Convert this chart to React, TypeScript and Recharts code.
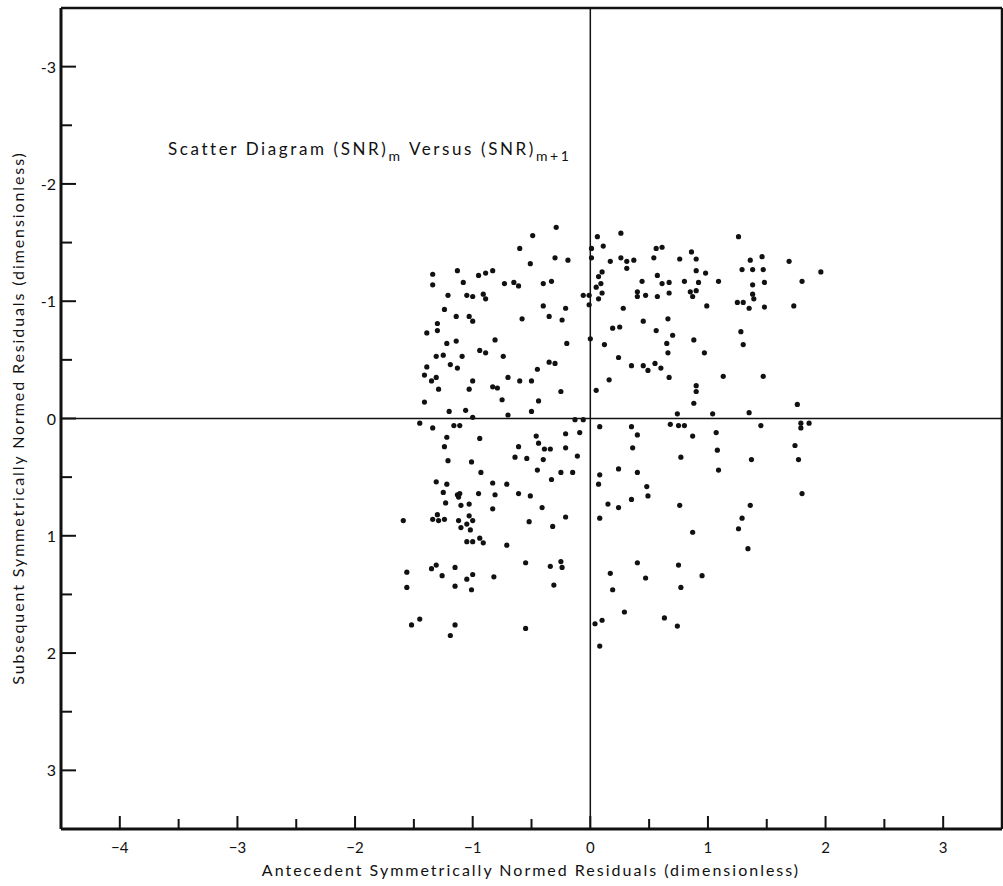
import { ScatterChart, Scatter, XAxis, YAxis, ReferenceLine } from "recharts";

const FONT = "Lato, 'DejaVu Sans', sans-serif";
const INK = "#111";

// tick positions (half steps are the short unlabelled ticks)
const xTicks = [-4, -3.5, -3, -2.5, -2, -1.5, -1, -0.5, 0, 0.5, 1, 1.5, 2, 2.5, 3];
const yTicks = [-3, -2.5, -2, -1.5, -1, -0.5, 0, 0.5, 1, 1.5, 2, 2.5, 3];

// [antecedent, subsequent] residual pairs
const topLeft: [number, number][] = [
  [-0.29, -1.63], [-0.49, -1.56], [-0.6, -1.45], [-0.3, -1.37], [-0.19, -1.35], [-0.51, -1.32],
  [-1.34, -1.23], [-1.13, -1.26], [-0.95, -1.22], [-0.89, -1.24], [-0.83, -1.26], [-1.34, -1.14],
  [-1.08, -1.16], [-0.73, -1.15], [-0.65, -1.16], [-0.61, -1.13], [-0.4, -1.15], [-0.33, -1.17],
  [-1.21, -1.05], [-1.05, -1.05], [-1.0, -1.04], [-0.91, -1.06], [-0.89, -1.02], [-0.06, -1.05],
  [-0.01, -1.05], [-0.4, -0.96], [-0.21, -0.94], [-0.01, -0.97], [-1.24, -0.93], [0.01, -1.45],
  [0.01, -1.37],
];

const topRight: [number, number][] = [
  [0.06, -1.55], [0.26, -1.58], [0.11, -1.47], [0.56, -1.45], [0.61, -1.46], [0.86, -1.42],
  [1.26, -1.55], [0.26, -1.37], [0.31, -1.34], [0.37, -1.35], [0.17, -1.34], [0.54, -1.37],
  [0.76, -1.36], [0.9, -1.36], [1.36, -1.35], [1.46, -1.38], [1.69, -1.34], [0.31, -1.28],
  [0.1, -1.25], [0.07, -1.21], [0.57, -1.22], [0.9, -1.26], [0.98, -1.24], [1.29, -1.27],
  [1.38, -1.27], [1.47, -1.27], [0.44, -1.17], [0.61, -1.15], [0.67, -1.16], [0.8, -1.17],
  [0.92, -1.16], [1.09, -1.17], [1.38, -1.14], [1.48, -1.16], [0.05, -1.12], [0.09, -1.15],
  [0.1, -1.07], [0.4, -1.08], [0.4, -1.04], [0.47, -1.05], [0.57, -1.04], [0.67, -1.07],
  [0.85, -1.08], [0.87, -1.04], [0.9, -1.09], [1.38, -1.06], [1.39, -1.02], [0.07, -1.02],
  [0.28, -0.94], [0.99, -0.96], [1.25, -0.99], [1.3, -0.99], [1.35, -0.94], [1.48, -0.95],
  [1.73, -0.96], [1.96, -1.25], [1.8, -1.17],
];

const midLeft: [number, number][] = [
  [-1.14, -0.87], [-1.03, -0.87], [-1.0, -0.83], [-0.58, -0.85], [-0.35, -0.87], [-0.24, -0.84],
  [-1.3, -0.81], [-1.39, -0.73], [-1.3, -0.75], [-1.22, -0.64], [-1.14, -0.66], [-0.81, -0.67],
  [-0.2, -0.64], [0.0, -0.68], [-0.94, -0.58], [-0.89, -0.56], [-1.31, -0.53], [-1.25, -0.54],
  [-1.09, -0.53], [-0.74, -0.53], [-0.35, -0.48], [-0.3, -0.47], [-1.39, -0.44], [-1.19, -0.46],
  [-1.13, -0.43], [-0.45, -0.42], [-1.41, -0.37], [-1.31, -0.35], [-1.35, -0.32], [-1.0, -0.32],
  [-0.7, -0.35], [-0.6, -0.32], [-0.5, -0.32], [-1.29, -0.25], [-1.03, -0.25], [-0.83, -0.27],
  [-0.79, -0.26], [-0.25, -0.23], [-1.41, -0.14], [-0.75, -0.16], [-0.44, -0.15], [-1.2, -0.06],
  [-1.06, -0.07], [-1.0, -0.01], [-0.7, -0.03], [-0.5, -0.06], [-1.45, 0.04], [-1.34, 0.08],
  [-1.16, 0.06], [-1.11, 0.06], [-0.13, 0.01], [-0.06, 0.01], [-1.22, 0.16], [-0.94, 0.17],
  [-0.46, 0.15], [-0.21, 0.13], [-0.09, 0.12], [-1.24, 0.24], [-0.61, 0.24], [-0.44, 0.21],
  [-0.39, 0.26], [-0.34, 0.26], [-0.21, 0.25], [-0.64, 0.33], [-0.54, 0.34], [-0.4, 0.35],
  [-0.11, 0.32], [-1.21, 0.36], [-1.01, 0.37], [-0.93, 0.46], [-0.45, 0.44], [-0.25, 0.46],
  [-0.15, 0.46], [-1.31, 0.54], [-1.22, 0.56], [-0.83, 0.55], [-0.71, 0.56], [-0.33, 0.52],
];

const midRight: [number, number][] = [
  [0.45, -0.83], [0.66, -0.85], [0.19, -0.77], [0.25, -0.78], [0.56, -0.75], [0.7, -0.71],
  [1.28, -0.74], [0.12, -0.63], [0.65, -0.64], [0.88, -0.67], [1.3, -0.63], [0.24, -0.52],
  [0.66, -0.56], [0.97, -0.56], [0.35, -0.45], [0.45, -0.45], [0.49, -0.41], [0.55, -0.47],
  [0.6, -0.43], [0.67, -0.35], [0.16, -0.33], [1.13, -0.36], [1.47, -0.36], [0.05, -0.24],
  [0.9, -0.28], [0.9, -0.23], [0.88, -0.13], [0.74, -0.04], [1.04, -0.04], [1.35, -0.05],
  [0.08, 0.07], [0.35, 0.07], [0.68, 0.05], [0.75, 0.06], [0.8, 0.06], [1.45, 0.06],
  [0.4, 0.14], [0.87, 0.15], [1.07, 0.12], [0.36, 0.25], [1.08, 0.27], [0.77, 0.33],
  [1.37, 0.35], [0.24, 0.43], [0.4, 0.46], [1.09, 0.44], [0.08, 0.48], [0.07, 0.56],
  [0.48, 0.58], [1.76, -0.12], [1.79, 0.04], [1.79, 0.08], [1.86, 0.04], [1.74, 0.23],
  [1.77, 0.35],
];

const lowLeft: [number, number][] = [
  [-1.25, 0.63], [-1.13, 0.65], [-1.11, 0.64], [-1.12, 0.67], [-0.95, 0.64], [-0.81, 0.65],
  [-0.61, 0.64], [-0.51, 0.66], [-1.23, 0.72], [-1.1, 0.74], [-1.03, 0.73], [-0.83, 0.77],
  [-0.41, 0.76], [-1.59, 0.87], [-1.3, 0.82], [-1.29, 0.87], [-1.34, 0.86], [-1.24, 0.86],
  [-1.12, 0.87], [-1.03, 0.83], [-1.0, 0.87], [-1.05, 0.9], [-1.1, 0.93], [-1.02, 0.95],
  [-0.52, 0.88], [-0.32, 0.92], [-0.21, 0.84], [-1.05, 1.05], [-1.0, 1.05], [-0.94, 1.02],
  [-0.91, 1.06], [-0.71, 1.08], [-0.55, 1.23], [-0.34, 1.26], [-0.25, 1.22], [-0.24, 1.27],
  [-1.31, 1.25], [-1.35, 1.28], [-1.56, 1.31], [-1.15, 1.27], [-1.26, 1.34], [-1.0, 1.33],
  [-1.05, 1.37], [-0.82, 1.35], [-1.56, 1.44], [-1.15, 1.43], [-1.01, 1.46], [-0.31, 1.42],
  [-1.45, 1.71], [-1.52, 1.76], [-1.15, 1.76], [-1.19, 1.85], [-0.55, 1.79],
];

const lowRight: [number, number][] = [
  [0.15, 0.73], [0.24, 0.76], [0.35, 0.69], [0.49, 0.66], [0.76, 0.74], [0.08, 0.85],
  [0.87, 0.97], [1.36, 0.74], [1.29, 0.85], [1.26, 0.94], [1.34, 1.11], [0.4, 1.23],
  [0.75, 1.25], [0.17, 1.32], [0.47, 1.36], [0.95, 1.34], [0.19, 1.46], [0.77, 1.44],
  [0.29, 1.65], [0.1, 1.72], [0.04, 1.75], [0.63, 1.7], [0.74, 1.77], [0.08, 1.94],
  [1.8, 0.64],
];

const points = [...topLeft, ...topRight, ...midLeft, ...midRight, ...lowLeft, ...lowRight].map(
  ([x, y]) => ({ x, y })
);

const isMajor = (v: number) => Number.isInteger(v);
const fmtX = (v: number) => (v < 0 ? `\u2212${Math.abs(v)}` : `${v}`);
const fmtY = (v: number) => (v < 0 ? `-${Math.abs(v)}` : `${v}`);

const BottomTick = ({ x, y, payload }: any) => {
  const v = payload.value;
  return (
    <g>
      <line x1={x} x2={x} y1={y} y2={y - (isMajor(v) ? 13 : 10)} stroke={INK} strokeWidth={2} />
      {isMajor(v) && (
        <text x={x} y={y + 24} textAnchor="middle" fontSize={15} fontFamily={FONT} fill={INK}>
          {fmtX(v)}
        </text>
      )}
    </g>
  );
};

const TopTick = ({ x, y, payload }: any) => (
  <line x1={x} x2={x} y1={y} y2={y + (isMajor(payload.value) ? 13 : 10)} stroke={INK} strokeWidth={2} />
);

const LeftTick = ({ x, y, payload }: any) => {
  const v = payload.value;
  return (
    <g>
      <line x1={x} x2={x + (isMajor(v) ? 15 : 11)} y1={y} y2={y} stroke={INK} strokeWidth={2} />
      {isMajor(v) && (
        <text x={x - 5} y={y + 6} textAnchor="end" fontSize={16} fontFamily={FONT} fill={INK}>
          {fmtY(v)}
        </text>
      )}
    </g>
  );
};

const RightTick = ({ x, y, payload }: any) => (
  <line x1={x} x2={x - (isMajor(payload.value) ? 13 : 10)} y1={y} y2={y} stroke={INK} strokeWidth={2} />
);

const Dot = (p: any) => <circle cx={p.cx} cy={p.cy} r={2.6} fill={INK} />;

export default function App() {
  return (
    <div style={{ position: "absolute", left: 0, top: 0, width: 1003, height: 886, background: "#fff" }}>
      <ScatterChart width={1003} height={886} margin={{ top: 7, right: 0, bottom: 0, left: 0 }}>
        <XAxis
          dataKey="x"
          type="number"
          domain={[-4.5, 3.5]}
          ticks={xTicks}
          interval={0}
          height={57}
          tickSize={0}
          tickMargin={0}
          tickLine={false}
          tick={<BottomTick />}
          axisLine={{ stroke: INK, strokeWidth: 3 }}
        />
        <XAxis
          xAxisId="top"
          orientation="top"
          type="number"
          domain={[-4.5, 3.5]}
          ticks={xTicks}
          interval={0}
          height={1}
          tickSize={0}
          tickMargin={0}
          tickLine={false}
          tick={<TopTick />}
          axisLine={{ stroke: INK, strokeWidth: 2.5 }}
        />
        <YAxis
          dataKey="y"
          type="number"
          domain={[-3.5, 3.5]}
          reversed
          ticks={yTicks}
          interval={0}
          width={61}
          tickSize={0}
          tickMargin={0}
          tickLine={false}
          tick={<LeftTick />}
          axisLine={{ stroke: INK, strokeWidth: 3 }}
        />
        <YAxis
          yAxisId="right"
          orientation="right"
          type="number"
          domain={[-3.5, 3.5]}
          reversed
          ticks={yTicks}
          interval={0}
          width={1}
          tickSize={0}
          tickMargin={0}
          tickLine={false}
          tick={<RightTick />}
          axisLine={{ stroke: INK, strokeWidth: 2.5 }}
        />
        <ReferenceLine x={0} stroke={INK} strokeWidth={1.5} />
        <ReferenceLine y={0} stroke={INK} strokeWidth={1.5} />
        <Scatter data={points} shape={<Dot />} isAnimationActive={false} />
      </ScatterChart>

      <svg
        width={1003}
        height={886}
        style={{ position: "absolute", left: 0, top: 0, pointerEvents: "none" }}
        fontFamily={FONT}
        fill={INK}
      >
        <text x={168} y={155} fontSize={17} letterSpacing={2.6}>
          Scatter Diagram (SNR)
          <tspan dy={6} fontSize={14}>m</tspan>
          <tspan dy={-6}> Versus (SNR)</tspan>
          <tspan dy={6} fontSize={14}>m+1</tspan>
        </text>
        <text x={531} y={876} fontSize={16} letterSpacing={2} textAnchor="middle">
          Antecedent Symmetrically Normed Residuals (dimensionless)
        </text>
        <text
          x={24}
          y={418}
          fontSize={16}
          letterSpacing={1.9}
          textAnchor="middle"
          transform="rotate(-90 24 418)"
        >
          Subsequent Symmetrically Normed Residuals (dimensionless)
        </text>
      </svg>
    </div>
  );
}
